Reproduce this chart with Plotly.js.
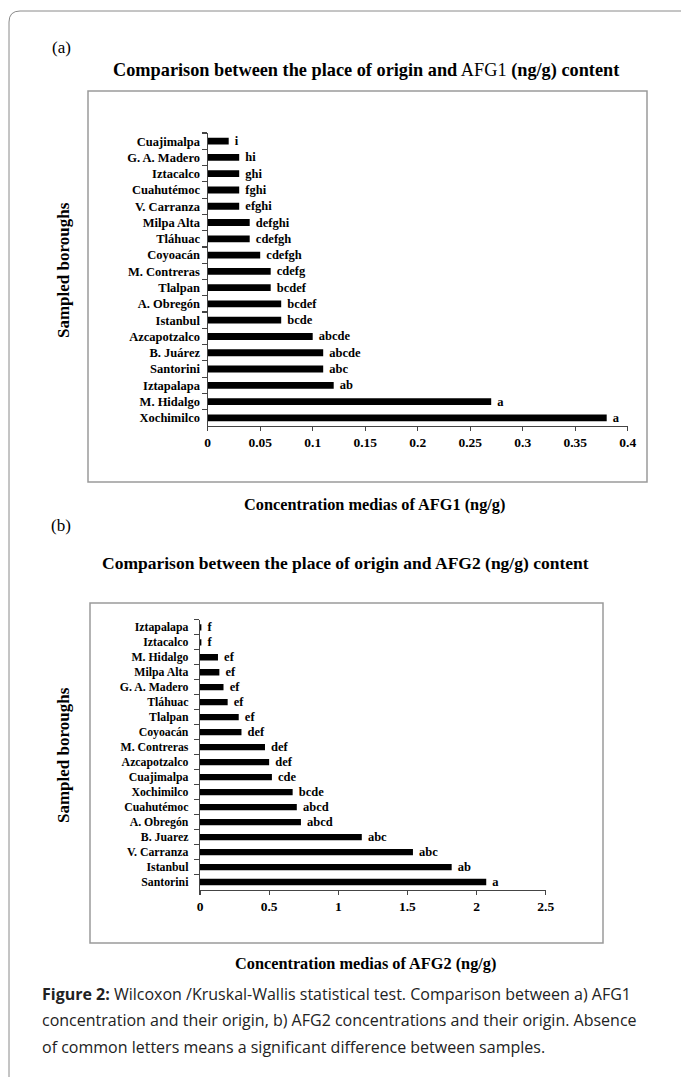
<!DOCTYPE html>
<html>
<head>
<meta charset="utf-8">
<script src="https://cdn.plot.ly/plotly-3.0.1.min.js"></script>
<style>html,body{margin:0;padding:0;background:#fff;}#chart{width:681px;height:1077px;}</style>
</head>
<body>
<div id="chart"></div>
<script>
// ---- Data (panel a: AFG1) ----
const afg1Boroughs = ['Cuajimalpa','G. A. Madero','Iztacalco','Cuahutémoc','V. Carranza','Milpa Alta','Tláhuac','Coyoacán','M. Contreras','Tlalpan','A. Obregón','Istanbul','Azcapotzalco','B. Juárez','Santorini','Iztapalapa','M. Hidalgo','Xochimilco'];
const afg1Values = [0.02,0.03,0.03,0.03,0.03,0.04,0.04,0.05,0.06,0.06,0.07,0.07,0.10,0.11,0.11,0.12,0.27,0.38];
const afg1Letters = ['i','hi','ghi','fghi','efghi','defghi','cdefgh','cdefgh','cdefg','bcdef','bcdef','bcde','abcde','abcde','abc','ab','a','a'];

// ---- Data (panel b: AFG2) ----
const afg2Boroughs = ['Iztapalapa','Iztacalco','M. Hidalgo','Milpa Alta','G. A. Madero','Tláhuac','Tlalpan','Coyoacán','M. Contreras','Azcapotzalco','Cuajimalpa','Xochimilco','Cuahutémoc','A. Obregón','B. Juarez','V. Carranza','Istanbul','Santorini'];
const afg2Values = [0.01,0.01,0.13,0.14,0.17,0.20,0.28,0.30,0.47,0.50,0.52,0.67,0.70,0.73,1.17,1.54,1.82,2.07];
const afg2Letters = ['f','f','ef','ef','ef','ef','ef','def','def','def','cde','bcde','abcd','abcd','abc','abc','ab','a'];

const W = 681, H = 1077;
const fx = px => px / W;
const fy = py => 1 - py / H;
const SERIF = 'Liberation Serif, Times New Roman, serif';
const SANS = 'Open Sans, Noto Sans, sans-serif';
const axisCol = '#444';
const NB = '\u00a0';

const traceA = {
  type: 'bar', orientation: 'h',
  x: afg1Values, y: afg1Boroughs, text: afg1Letters.map(s => NB + s),
  textposition: 'outside', constraintext: 'none', cliponaxis: false,
  textfont: {family: SERIF, size: 12.5, color: '#000', weight: 'bold'},
  marker: {color: '#000'}, width: 0.42,
  xaxis: 'x', yaxis: 'y', hoverinfo: 'none'
};
const traceB = {
  type: 'bar', orientation: 'h',
  x: afg2Values, y: afg2Boroughs, text: afg2Letters.map(s => NB + s),
  textposition: 'outside', constraintext: 'none', cliponaxis: false,
  textfont: {family: SERIF, size: 12.5, color: '#000', weight: 'bold'},
  marker: {color: '#000'}, width: 0.42,
  xaxis: 'x2', yaxis: 'y2', hoverinfo: 'none'
};

const commonX = {
  showline: true, linecolor: axisCol, linewidth: 1.2,
  ticks: 'outside', ticklen: 4, tickcolor: axisCol, tickwidth: 1.2,
  showgrid: false, zeroline: false, fixedrange: true,
  tickfont: {family: SERIF, size: 13.5, color: '#000', weight: 'bold'}
};
const commonY = {
  type: 'category', showline: true, linecolor: axisCol, linewidth: 1.2,
  tickmode: 'linear', tick0: 0, dtick: 1,
  ticks: 'outside', tickson: 'boundaries', ticklen: 5, tickcolor: axisCol, tickwidth: 1.2,
  showgrid: false, zeroline: false, fixedrange: true
};

const grayBox = '#9a9a9a';
const r = 11;
const framePath = `M ${fx(9)} ${fy(H)} L ${fx(9)} ${fy(11 + r)} Q ${fx(9)} ${fy(11)} ${fx(9 + r)} ${fy(11)} L ${fx(W)} ${fy(11)}`;

function note(px, py, text, font, extra) {
  return Object.assign({xref: 'paper', yref: 'paper', x: fx(px), y: fy(py), text: text,
    showarrow: false, xanchor: 'center', yanchor: 'middle', font: font}, extra || {});
}

const layout = {
  width: W, height: H, autosize: false,
  margin: {l: 0, r: 0, t: 0, b: 0},
  paper_bgcolor: '#fff', plot_bgcolor: 'rgba(0,0,0,0)',
  showlegend: false,
  xaxis: Object.assign({}, commonX, {domain: [fx(207.7), fx(627.7)], range: [0, 0.4], dtick: 0.05, tick0: 0, anchor: 'y'}),
  yaxis: Object.assign({}, commonY, {domain: [fy(426), fy(133)], range: [17.5, -0.5], anchor: 'x', ticklabelstandoff: 4,
    tickfont: {family: SERIF, size: 12.5, color: '#000', weight: 'bold'}}),
  xaxis2: Object.assign({}, commonX, {domain: [fx(200), fx(545.7)], range: [0, 2.5], dtick: 0.5, tick0: 0, anchor: 'y2'}),
  yaxis2: Object.assign({}, commonY, {domain: [fy(889.5), fy(619.8)], range: [17.5, -0.5], anchor: 'x2', ticklabelstandoff: 8,
    tickfont: {family: SERIF, size: 11.8, color: '#000', weight: 'bold'}}),
  shapes: [
    {type: 'path', xref: 'paper', yref: 'paper', path: framePath, line: {color: '#8a8a8a', width: 1}},
    {type: 'rect', xref: 'paper', yref: 'paper', x0: fx(88), x1: fx(647), y0: fy(482), y1: fy(91), line: {color: grayBox, width: 1.5}, layer: 'below'},
    {type: 'rect', xref: 'paper', yref: 'paper', x0: fx(90), x1: fx(603), y0: fy(943), y1: fy(603), line: {color: grayBox, width: 1.5}, layer: 'below'}
  ],
  annotations: [
    note(61, 48, '(a)', {family: SERIF, size: 17, color: '#000'}),
    note(366, 70, '<b>Comparison between the place of origin and</b> AFG1 <b>(ng/g) content</b>', {family: SERIF, size: 18.3, color: '#000'}),
    note(63, 270, 'Sampled boroughs', {family: SERIF, size: 17, color: '#000', weight: 'bold'}, {textangle: -90}),
    note(374, 504, 'Concentration medias of AFG1 (ng/g)', {family: SERIF, size: 16.3, color: '#000', weight: 'bold'}),

    note(61, 525, '(b)', {family: SERIF, size: 17, color: '#000'}),
    note(346, 563, 'Comparison between the place of origin and AFG2 (ng/g) content', {family: SERIF, size: 17.5, color: '#000', weight: 'bold'}),
    note(63, 755, 'Sampled boroughs', {family: SERIF, size: 17, color: '#000', weight: 'bold'}, {textangle: -90}),
    note(366, 963, 'Concentration medias of AFG2 (ng/g)', {family: SERIF, size: 16.3, color: '#000', weight: 'bold'}),

    note(40, 994, '<b>Figure 2:</b> Wilcoxon /Kruskal-Wallis statistical test. Comparison between a) AFG1',
      {family: SANS, size: 16, color: '#222'}, {xanchor: 'left'}),
    note(40, 1020, 'concentration and their origin, b) AFG2 concentrations and their origin. Absence',
      {family: SANS, size: 16, color: '#222'}, {xanchor: 'left'}),
    note(40, 1047, 'of common letters means a significant difference between samples.',
      {family: SANS, size: 16, color: '#222'}, {xanchor: 'left'})
  ]
};

Plotly.newPlot('chart', [traceA, traceB], layout, {staticPlot: true, displayModeBar: false});
</script>
</body>
</html>
